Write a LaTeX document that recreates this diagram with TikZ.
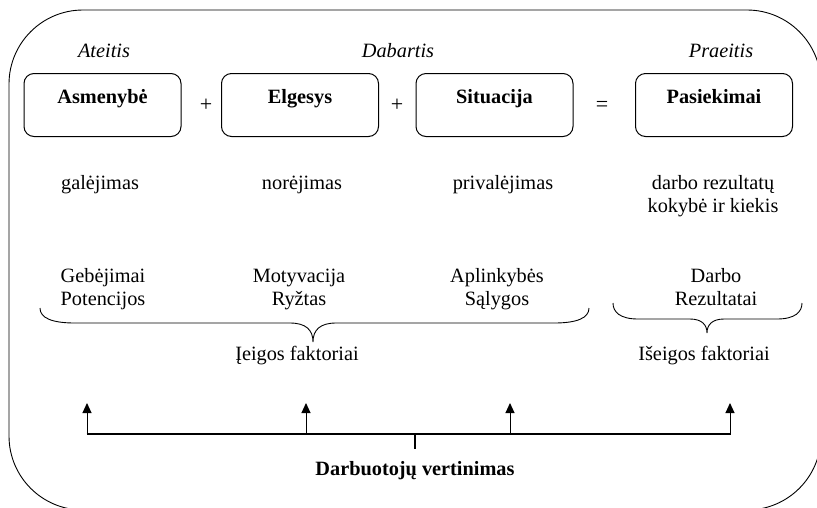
\documentclass[tikz,border=0pt]{standalone}
\usepackage{fontspec}
\setmainfont{Liberation Serif}
\usetikzlibrary{arrows.meta}
\begin{document}
\begin{tikzpicture}[x=1pt,y=-1pt,
  txt/.style={font=\fontsize{20.3}{23}\selectfont, inner sep=0pt, anchor=base},
  period/.style={txt, font=\fontsize{20.3}{23}\selectfont\itshape},
  twoline/.style={txt, align=center},
  stagebox/.style={draw, line width=1pt, rounded corners=10pt, minimum width=157pt,
    inner sep=0pt, text height=30pt, text depth=33pt, anchor=north,
    font=\fontsize{20.3}{23}\selectfont\bfseries},
  frame/.style={draw, line width=0.9pt, rounded corners=74pt},
  bus/.style={line width=2pt},
  feed/.style={line width=1pt, -{Triangle[length=10pt,width=9pt]}},
  bracepath/.style={line width=0.9pt},
]
\useasboundingbox (0,0) rectangle (817,507);
\clip (0,0) rectangle (817,507);

% outer rounded frame (runs past the right and bottom edges)
\draw[frame] (9,10) rectangle (821,510);

% time periods
\node[period] (ateitis)  at (104,57) {Ateitis};
\node[period] (dabartis) at (398,57) {Dabartis};
\node[period] (praeitis) at (721,57) {Praeitis};

% the four stages
\node[stagebox] (asm) at (102.5,73) {Asmenybė};
\node[stagebox] (elg) at (300,73)   {Elgesys};
\node[stagebox] (sit) at (494.5,73) {Situacija};
\node[stagebox] (pas) at (714,73)   {Pasiekimai};

\node[txt, font=\fontsize{22}{23}\selectfont] (plus1) at (206,111) {+};
\node[txt, font=\fontsize{22}{23}\selectfont] (plus2) at (397,111) {+};
\node[txt, font=\fontsize{22}{23}\selectfont] (eq)    at (602,111) {=};

% what each stage means
\node[twoline] (gal) at (100,189) {galėjimas};
\node[twoline] (nor) at (302,189) {norėjimas};
\node[twoline] (pri) at (503,189) {privalėjimas};
\node[twoline] (dar) at (713,212) {darbo rezultatų\\kokybė ir kiekis};

% the factors
\node[twoline] (geb) at (103,305) {Gebėjimai\\Potencijos};
\node[twoline] (mot) at (299,305) {Motyvacija\\Ryžtas};
\node[twoline] (apl) at (497,305) {Aplinkybės\\Sąlygos};
\node[twoline] (drb) at (716,305) {Darbo\\Rezultatai};

% input factors brace
\draw[bracepath] (40,308) .. controls (40,318) and (52,323) .. (75,323)
  -- (290,323) .. controls (306,323) and (313,330) .. (313,342)
  .. controls (313,330) and (320,323) .. (336,323)
  -- (554,323) .. controls (577,323) and (589,318) .. (589,308);
\node[txt] (ieig) at (297,360) {Įeigos faktoriai};

% output factors brace
\draw[bracepath] (613,303) .. controls (613,312) and (620,319) .. (638,319)
  -- (690,319) .. controls (702,319) and (707,325) .. (707,333)
  .. controls (707,325) and (712,319) .. (724,319)
  -- (777,319) .. controls (795,319) and (802,312) .. (802,303);
\node[txt] (iseig) at (704,360) {Išeigos faktoriai};

% evaluation bus
\coordinate (b1) at (87,434);
\coordinate (b2) at (306,434);
\coordinate (b3) at (510,434);
\coordinate (b4) at (730,434);
\coordinate (bm) at (415,434);
\coordinate (t1) at (87,403);
\coordinate (t2) at (306,403);
\coordinate (t3) at (510,403);
\coordinate (t4) at (730,403);
\coordinate (bs) at (415,449);
\draw[bus] ([xshift=-0.5pt]b1) -- ([xshift=0.5pt]b4);
\draw[bus] (bm) -- (bs);
\foreach \i in {1,...,4} \draw[feed] (b\i) -- (t\i);
\node[txt, font=\fontsize{20.3}{23}\selectfont\bfseries] (vert) at (415,475) {Darbuotojų vertinimas};
\end{tikzpicture}
\end{document}
